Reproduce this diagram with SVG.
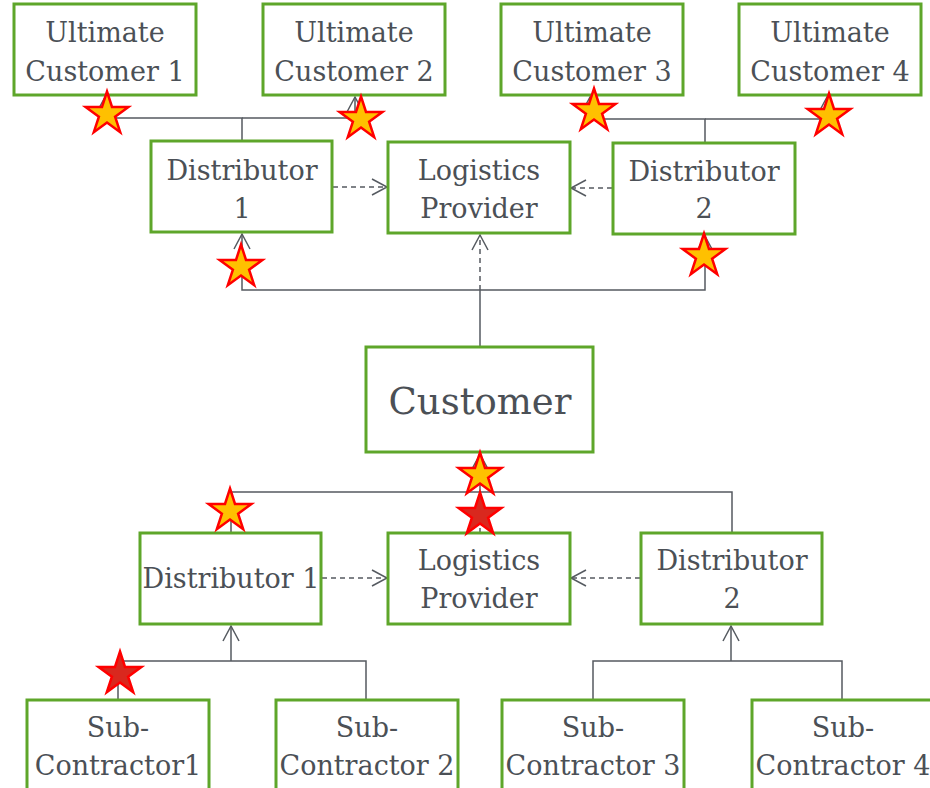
<svg xmlns="http://www.w3.org/2000/svg" width="930" height="788" viewBox="0 0 930 788">
<style>
.box{fill:#fff;stroke:#5ea62a;stroke-width:3}
.t{font-family:"DejaVu Serif","Liberation Serif",serif;font-size:27px;fill:#4b5056;text-anchor:middle}
.big{font-size:37px}
.c{fill:none;stroke:#555a60;stroke-width:1.5}
.d{stroke-dasharray:5,4}
.ar{marker-end:url(#arr)}
.sy{fill:#ffc000;stroke:#ff0000;stroke-width:2.5}
.sr{fill:#d9281e;stroke:#ff0000;stroke-width:2.5}
</style>
<defs>
<marker id="arr" markerUnits="userSpaceOnUse" markerWidth="20" markerHeight="20" viewBox="-16 -10 18 20" refX="0" refY="0" orient="auto">
<path d="M-15,-8 L0,0 L-15,8" fill="none" stroke="#555a60" stroke-width="1.5"/>
</marker>
<path id="star" d="M0,-22.5 L5,-7 L21.4,-7 L8.1,2.7 L13.2,18.2 L0,8.6 L-13.2,18.2 L-8.1,2.7 L-21.4,-7 L-5,-7 Z"/>
</defs>
<g id="connectors">
<path class="c ar" d="M242,141 V118 H105 V97"/>
<path class="c ar" d="M242,118 H355 V97"/>
<path class="c ar" d="M705,143 V119 H590 V97"/>
<path class="c ar" d="M705,119 H827 V97"/>
<path class="c d ar" d="M333,187 H387"/>
<path class="c d ar" d="M612,188 H571"/>
<path class="c" d="M480,346 V290"/>
<path class="c ar" d="M480,290 H242 V234"/>
<path class="c ar" d="M480,290 H705 V236"/>
<path class="c d ar" d="M480,290 V235"/>
<path class="c ar" d="M480,492 V454"/>
<path class="c" d="M231,533 V492 H732 V533"/>
<path class="c d" d="M480,492 V532"/>
<path class="c d ar" d="M322,578 H387"/>
<path class="c d ar" d="M640,578 H571"/>
<path class="c" d="M118,700 V661 H366 V700"/>
<path class="c ar" d="M231,661 V626"/>
<path class="c" d="M593,700 V661 H842 V700"/>
<path class="c ar" d="M731,661 V626"/>
</g>
<g id="uc1"><rect class="box" x="14" y="4" width="182" height="91"/><text class="t" x="105" y="42">Ultimate</text><text class="t" x="105" y="81">Customer 1</text></g>
<g id="uc2"><rect class="box" x="263" y="4" width="182" height="91"/><text class="t" x="354" y="42">Ultimate</text><text class="t" x="354" y="81">Customer 2</text></g>
<g id="uc3"><rect class="box" x="501" y="4" width="182" height="91"/><text class="t" x="592" y="42">Ultimate</text><text class="t" x="592" y="81">Customer 3</text></g>
<g id="uc4"><rect class="box" x="739" y="4" width="182" height="91"/><text class="t" x="830" y="42">Ultimate</text><text class="t" x="830" y="81">Customer 4</text></g>
<g id="dist1top"><rect class="box" x="151" y="141" width="181" height="91"/><text class="t" x="242" y="180">Distributor</text><text class="t" x="242" y="218">1</text></g>
<g id="lptop"><rect class="box" x="388" y="142" width="182" height="91"/><text class="t" x="479" y="180">Logistics</text><text class="t" x="479" y="218">Provider</text></g>
<g id="dist2top"><rect class="box" x="613" y="143" width="182" height="91"/><text class="t" x="704" y="181">Distributor</text><text class="t" x="704" y="218">2</text></g>
<g id="customer"><rect class="box" x="366" y="347" width="227" height="105"/><text class="t big" x="480" y="414">Customer</text></g>
<g id="dist1bot"><rect class="box" x="140" y="533" width="181" height="91"/><text class="t" x="231" y="588">Distributor 1</text></g>
<g id="lpbot"><rect class="box" x="388" y="533" width="182" height="91"/><text class="t" x="479" y="570">Logistics</text><text class="t" x="479" y="608">Provider</text></g>
<g id="dist2bot"><rect class="box" x="641" y="533" width="181" height="91"/><text class="t" x="732" y="570">Distributor</text><text class="t" x="732" y="608">2</text></g>
<g id="sc1"><rect class="box" x="27" y="700" width="182" height="100"/><text class="t" x="118" y="737">Sub-</text><text class="t" x="118" y="775">Contractor1</text></g>
<g id="sc2"><rect class="box" x="276" y="700" width="182" height="100"/><text class="t" x="367" y="737">Sub-</text><text class="t" x="367" y="775">Contractor 2</text></g>
<g id="sc3"><rect class="box" x="502" y="700" width="182" height="100"/><text class="t" x="593" y="737">Sub-</text><text class="t" x="593" y="775">Contractor 3</text></g>
<g id="sc4"><rect class="box" x="752" y="700" width="182" height="100"/><text class="t" x="843" y="737">Sub-</text><text class="t" x="843" y="775">Contractor 4</text></g>
<g id="stars">
<use href="#star" class="sy" x="107" y="114"/>
<use href="#star" class="sy" x="361" y="119"/>
<use href="#star" class="sy" x="594" y="111"/>
<use href="#star" class="sy" x="829" y="116"/>
<use href="#star" class="sy" x="241" y="267"/>
<use href="#star" class="sy" x="704" y="256"/>
<use href="#star" class="sy" x="480" y="475"/>
<use href="#star" class="sy" x="230" y="511"/>
<use href="#star" class="sr" x="480" y="515"/>
<use href="#star" class="sr" x="120" y="674"/>
</g>
</svg>
